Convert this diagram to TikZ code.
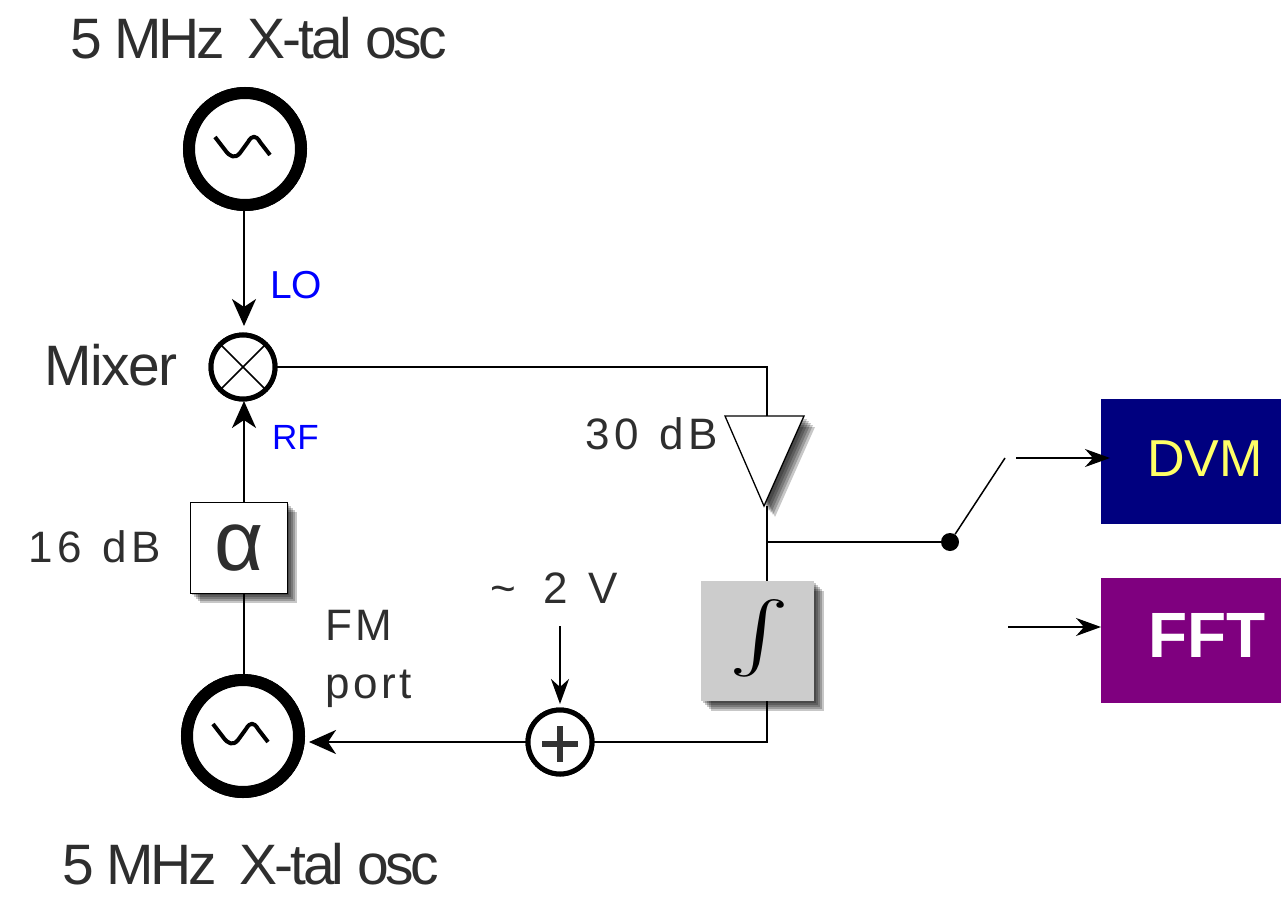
\documentclass[tikz,border=0pt]{standalone}
\usepackage{fontspec}
\setmainfont{Liberation Sans}
\newfontfamily\spaced[LetterSpace=11]{Liberation Sans}
\newfontfamily\spacedb[LetterSpace=8]{Liberation Sans}
\newfontfamily\tight[LetterSpace=-5.5]{Liberation Sans}
\newfontfamily\tightb[LetterSpace=-2.5]{Liberation Sans}
\usetikzlibrary{arrows.meta}
\definecolor{txt}{HTML}{2E2E2E}
\definecolor{navyb}{HTML}{00007F}
\definecolor{purp}{HTML}{7F007F}
\definecolor{yell}{HTML}{FFFF66}
\tikzset{
  wire/.style={draw=black,line width=2.5pt},
  thin wire/.style={draw=black,line width=1.5pt},
  bigtip/.style={-{Stealth[length=27pt,width=24pt,inset=8pt]}},
  smalltip/.style={-{Stealth[length=25pt,width=18pt,inset=8pt]}},
  osc/.style={circle,draw=black,fill=white,line width=12pt,minimum size=112pt,inner sep=0pt,outer sep=0pt},
  ring/.style={circle,draw=black,fill=white,line width=5pt,minimum size=64pt,inner sep=0pt,outer sep=0pt},
  label/.style={inner sep=0pt,text=txt,anchor=base west},
  big/.style={label,font=\tight\fontsize{57}{60}\selectfont},
  mid/.style={label,font=\spaced\fontsize{44}{47}\selectfont},
  midb/.style={label,font=\spacedb\fontsize{44}{47}\selectfont},
  blue lab/.style={inner sep=0pt,text=blue,anchor=base west},
  colorbox/.style={inner sep=0pt,minimum width=180pt,minimum height=125pt,anchor=north west},
}
\newcommand{\softshadow}[4]{%
  \foreach \k in {10,8,6,4,2}{
    \fill[black,opacity=0.22] (#1+\k,#2+\k) rectangle (#3+\k,#4+\k);}}
\begin{document}
\begin{tikzpicture}[x=1pt,y=-1pt]
\useasboundingbox (0,0) rectangle (1281,896);
% shadows
\softshadow{190}{502}{287}{593}
\softshadow{701}{581}{814}{701}
\foreach \k in {11,9,7,5,3}{
  \fill[black,opacity=0.22] (725+\k,416+\k) -- (804+\k,416+\k) -- (764+\k,506+\k) -- cycle;}
% coordinates
\coordinate (corner) at (767,367);
\coordinate (tap) at (767,542);
\coordinate (bend) at (767,742);
\coordinate (swend) at (1005,458);
\coordinate (dvmin) at (1016,458);
\coordinate (fftin) at (1008,627);
\coordinate (vin) at (560,626);
\coordinate (mixtip) at (244,326);
\coordinate (rftip) at (244,401);
\coordinate (sumtip) at (560,704);
\coordinate (osctip) at (309,742);
% nodes
\node[osc] (osctop) at (245,149) {};
\node[osc] (oscbot) at (243,736) {};
\node[ring] (mixer) at (243,367) {};
\node[ring] (sum) at (560,742) {};
\node[draw=black,line width=1pt,fill=white,inner sep=0pt,minimum width=97pt,minimum height=91pt,anchor=north west] (atten) at (190,502) {};
\node[fill=black!20,inner sep=0pt,minimum width=113pt,minimum height=120pt,anchor=north west] (integ) at (701,581) {};
\coordinate (ampL) at (725,416);
\coordinate (ampR) at (804,416);
\coordinate (ampT) at (764,506);
\coordinate (ampin) at (767,416);
\draw[fill=white,line width=1.3pt,line join=miter] (ampL) -- (ampR) -- (ampT) -- cycle;
\node[colorbox,fill=navyb] (dvm) at (1101,399) {};
\node[colorbox,fill=purp] (fft) at (1101,578) {};
\node[circle,fill=black,inner sep=0pt,minimum size=18pt] (dot) at (950,542) {};
% connectors
\draw[wire,bigtip] (mixtip|-osctop) -- (mixtip);
\draw[wire,bigtip] (rftip|-atten.north) -- (rftip);
\draw[wire] (rftip|-atten.south) -- (rftip|-oscbot);
\draw[wire] (mixer) -- (corner) -- (ampin);
\draw[wire] (ampT-|tap) -- (integ.north-|tap);
\draw[wire] (integ.south-|tap) -- (bend) -- (sum);
\draw[wire,bigtip] (sum) -- (osctip);
\draw[wire,smalltip] (vin) -- (sumtip);
\draw[thin wire] (tap) -- (dot);
\draw[thin wire] (dot) -- (swend);
\draw[thin wire,smalltip] (dvmin) -- ([xshift=9pt]dvm.west|-dvmin);
\draw[thin wire,smalltip] (fftin) -- (fft.west|-fftin);
% redraw ring interiors over wires
\node[osc] at (osctop) {};
\node[osc] at (oscbot) {};
\node[ring] at (mixer) {};
\node[ring] at (sum) {};
% glyphs inside
\foreach \n in {osctop,oscbot}{
  \begin{scope}[shift={(\n.center)}]
  \draw[line width=4pt,line join=round] (-30,-12) -- (-20,1) .. controls (-15,8) and (-10,10) .. (-5,4) -- (3,-7) .. controls (7,-14) and (11,-14) .. (15,-7) -- (25,6);
  \end{scope}
}
\draw[line width=1.6pt] (mixer.north west) -- (mixer.south east);
\draw[line width=1.6pt] (mixer.north east) -- (mixer.south west);
\draw[line width=5.5pt,draw=black!80] (sum.center)+(-18,2) -- +(18,2);
\draw[line width=5.5pt,draw=black!80] (sum.center)+(0,-16) -- +(0,20);
\node[inner sep=0pt,text=txt,font=\fontsize{85}{90}\selectfont] (alphatxt) at (atten.center) {α};
\node[inner sep=0pt,xscale=9,yscale=7] (inttxt) at (759,638) {$\textstyle\int$};
% labels
\node[big] (t1) at (70,59) {5 MHz\, X-tal osc};
\node[big] (t2) at (62,884) {5 MHz\, X-tal osc};
\node[label,font=\tightb\fontsize{57}{60}\selectfont] (t3) at (44,385) {Mixer};
\node[blue lab,font=\fontsize{39}{42}\selectfont] (lo) at (270,298) {LO};
\node[blue lab,font=\fontsize{35}{40}\selectfont] (rf) at (272,449) {RF};
\node[mid] (t4) at (585,449) {30\hspace{3pt} dB};
\node[mid] (t5) at (28,562) {16\hspace{3pt} dB};
\node[mid] (t6) at (490,603) {\textasciitilde\hspace{28pt}2\hspace{20pt}V};
\node[midb] (t7) at (325,640) {FM};
\node[midb] (t8) at (325,698) {port};
\node[inner sep=0pt,text=yell,anchor=base west,font=\fontsize{52}{56}\selectfont] (t9) at (1147,476) {DVM};
\node[inner sep=0pt,text=white,anchor=base west,font=\bfseries\fontsize{64}{70}\selectfont] (t10) at (1148,657) {FFT};
\end{tikzpicture}
\end{document}
